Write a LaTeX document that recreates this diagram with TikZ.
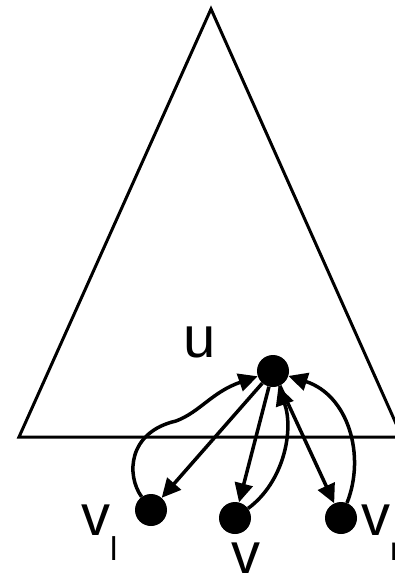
\documentclass[tikz,border=0pt]{standalone}
\usepackage{fontspec}
\setmainfont{Liberation Sans}
\usepackage{tikz}
\usetikzlibrary{arrows.meta}
\newcommand{\lowsub}[1]{\raisebox{-25pt}{\fontsize{33pt}{33pt}\selectfont #1}}

\begin{document}
\begin{tikzpicture}[x=1pt, y=-1pt,
dot/.style={circle, fill=black, inner sep=0pt, minimum size=32pt},
lbl/.style={anchor=base, inner sep=0pt, font=\fontsize{58pt}{58pt}\selectfont},
edge/.style={line width=3.5pt, -{Triangle[length=19pt, width=18pt]}}]
\clip (0,0) rectangle (395,574);
\draw[line width=3pt] (211,9) -- (19,437) -- (402,437) -- cycle;
\node[dot] (u) at (273,371) {};
\node[dot] (vl) at (151,510) {};
\node[dot] (v) at (235,518) {};
\node[dot] (vr) at (341,518) {};
\node[lbl] (ulbl) at (200,357) {u};
\node[lbl, anchor=base west] (vllbl) at (81,535) {v\lowsub{l}};
\node[lbl] (vlbl) at (246,573) {v};
\node[lbl, anchor=base west] (vrlbl) at (361,535) {v\lowsub{r}};
\coordinate (kink) at (176,421);
\draw[edge] (u) -- (vl);
\draw[edge] (u) -- (v);
\draw[edge] (u) -- (vr);
\draw[edge] (vl) .. controls (126,475) and (128,432) .. (kink) .. controls (200,412) and (212,392) .. (u);
\draw[edge] (v) .. controls (284,482) and (294,430) .. (u);
\draw[edge] (vr) .. controls (366,455) and (348,395) .. (u);
\end{tikzpicture}
\end{document}
